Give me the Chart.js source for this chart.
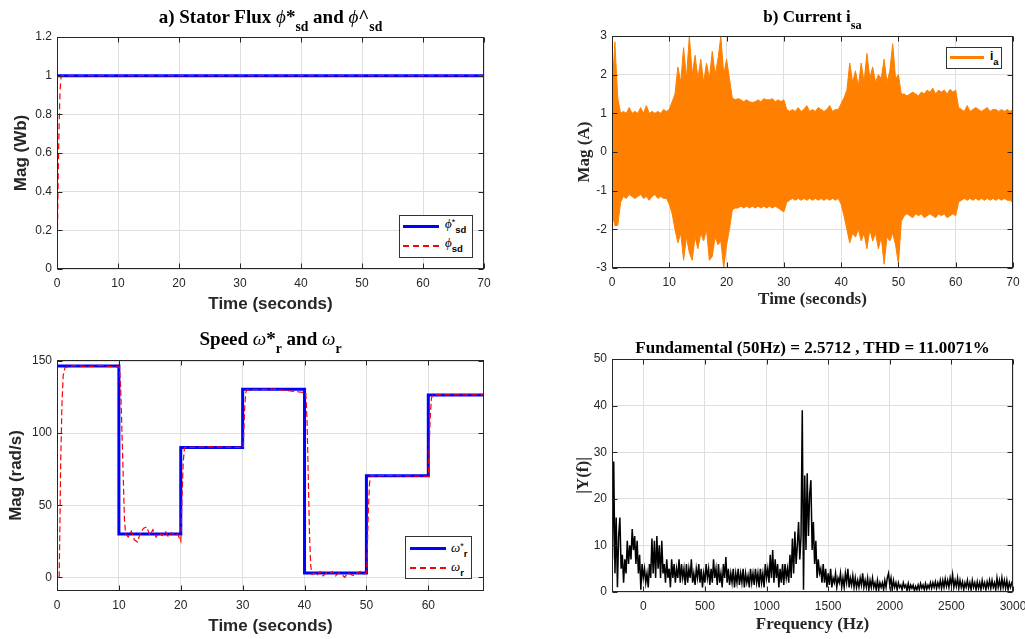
<!DOCTYPE html>
<html>
<head>
<meta charset="utf-8">
<script src="https://cdn.jsdelivr.net/npm/chart.js"></script>
<style>
body{margin:0;background:#fff;width:1025px;height:639px;overflow:hidden;position:relative}
canvas{position:absolute}
.t{position:absolute;font-family:'Liberation Serif','Times New Roman',serif;font-weight:bold;color:#000;line-height:1;white-space:nowrap;text-align:center}
.t sub{font-size:0.72em;vertical-align:-0.55em;line-height:0}
.t i,.lt i{font-weight:normal;font-style:italic}
.lg{position:absolute;background:#fff;border:1px solid #333;box-sizing:border-box}
.sw{position:absolute}
.dash{height:1.5px;background:repeating-linear-gradient(90deg,#ff0000 0 6px,transparent 6px 10px)}
.lt{position:absolute;white-space:nowrap;line-height:1;font-family:'Liberation Serif','Times New Roman',serif;font-size:13px;color:#000}
.lt sub{font-family:'Liberation Sans',Arial,sans-serif;font-weight:bold;font-size:9.5px;vertical-align:-0.5em;line-height:0}
.lt sup{font-family:'Liberation Sans',Arial,sans-serif;font-size:9px;vertical-align:0.35em;line-height:0}
</style>
</head>
<body>
<canvas id="cA" width="512" height="320" style="left:0;top:0"></canvas>
<canvas id="cB" width="513" height="320" style="left:512px;top:0"></canvas>
<canvas id="cC" width="512" height="319" style="left:0;top:320px"></canvas>
<canvas id="cD" width="513" height="319" style="left:512px;top:320px"></canvas>

<div class="t" style="left:57px;width:427px;top:7px;font-size:19px">a) Stator Flux <i>ϕ</i>*<sub>sd</sub> and <i>ϕ</i>^<sub>sd</sub></div>
<div class="t" style="left:612px;width:401px;top:7.5px;font-size:17px">b) Current i<sub>sa</sub></div>
<div class="t" style="left:57px;width:427px;top:329px;font-size:19px">Speed <i>ω</i>*<sub>r</sub> and <i>ω</i><sub>r</sub></div>
<div class="t" style="left:612px;width:401px;top:338.5px;font-size:17px">Fundamental (50Hz) = 2.5712 , THD = 11.0071%</div>

<div class="lg" style="left:399px;top:215px;width:74px;height:43px">
  <div class="sw" style="left:3px;top:9px;width:36px;height:3px;background:#0000ff"></div>
  <div class="lt" style="left:45px;top:1px"><i>ϕ</i><sup>*</sup><sub>sd</sub></div>
  <div class="sw dash" style="left:3px;top:29px;width:36px"></div>
  <div class="lt" style="left:45px;top:20px"><i>ϕ</i><sub>sd</sub></div>
</div>
<div class="lg" style="left:946px;top:47px;width:56px;height:22px">
  <div class="sw" style="left:3px;top:8px;width:34px;height:2.5px;background:#ff8000"></div>
  <div class="lt" style="left:43px;top:2px;font-family:'Liberation Sans',Arial,sans-serif;font-weight:bold;font-size:12px">i<sub>a</sub></div>
</div>
<div class="lg" style="left:405px;top:536px;width:67px;height:43px">
  <div class="sw" style="left:4px;top:10px;width:36px;height:3px;background:#0000ff"></div>
  <div class="lt" style="left:45px;top:4px"><i>ω</i><sup>*</sup><sub>r</sub></div>
  <div class="sw dash" style="left:4px;top:30px;width:36px"></div>
  <div class="lt" style="left:45px;top:23px"><i>ω</i><sub>r</sub></div>
</div>

<script>
// ---------------- DATA ----------------
// tick labels
const timeTicks70 = [0, 10, 20, 30, 40, 50, 60, 70];
const timeTicks69 = [0, 10, 20, 30, 40, 50, 60];
const fluxTicks = [0, 0.2, 0.4, 0.6, 0.8, 1, 1.2];
const curTicks = [-3, -2, -1, 0, 1, 2, 3];
const speedTicks = [0, 50, 100, 150];
const freqTicks = [0, 500, 1000, 1500, 2000, 2500, 3000];
const fftTicks = [0, 10, 20, 30, 40, 50];

// a) Stator flux
const fluxRefT = [0, 70];
const fluxRefV = [1, 1];
const fluxEstT = [0, 0.1, 0.2, 0.35, 0.5, 0.65, 0.8, 70];
const fluxEstV = [0.05, 0.25, 0.5, 0.75, 0.92, 0.99, 1, 1];

// b) Current i_sa envelope (every 0.5 s from 0 to 70 s)
const curStep = 0.5;
const curHi = [
  1.5, 2.85, 1.4, 1.0, 1.05, 1.0, 1.15, 1.0, 1.05, 1.0,
  1.15, 1.0, 1.2, 1.0, 1.05, 1.0, 1.05, 1.0, 1.1, 1.05,
  1.1, 1.3, 1.5, 2.2, 1.8, 2.7, 1.9, 3.0, 2.0, 2.5,
  1.9, 2.4, 1.8, 2.3, 1.9, 2.6, 2.0, 2.4, 3.0, 2.0,
  2.4, 1.9, 1.4, 1.35, 1.38, 1.35, 1.3, 1.35, 1.3, 1.28,
  1.3, 1.35, 1.3, 1.38, 1.35, 1.35, 1.38, 1.3, 1.35, 1.3,
  1.35, 1.1, 1.05, 1.1, 1.05, 1.15, 1.05, 1.1, 1.2, 1.05,
  1.1, 1.05, 1.15, 1.1, 1.05, 1.1, 1.2, 1.05, 1.1, 1.1,
  1.25, 1.4, 1.6, 2.3, 1.8, 2.1, 1.7, 2.3, 1.8, 2.55,
  1.9, 2.2, 1.8, 2.0, 1.9, 2.4, 1.8, 2.1, 2.8, 1.9,
  2.0, 1.5, 1.5, 1.45, 1.5, 1.55, 1.5, 1.45, 1.55, 1.5,
  1.6, 1.55, 1.65, 1.5, 1.6, 1.55, 1.6, 1.5, 1.62, 1.55,
  1.6, 1.15, 1.1, 1.05, 1.2, 1.05, 1.1, 1.15, 1.1, 1.05,
  1.1, 1.15, 1.05, 1.1, 1.1, 1.05, 1.1, 1.05, 1.1, 1.05,
  1.1
];
const curLo = [
  -1.6, -1.9, -1.9, -1.3, -1.15, -1.2, -1.1, -1.15, -1.2, -1.15,
  -1.1, -1.2, -1.15, -1.25, -1.15, -1.1, -1.2, -1.15, -1.2, -1.2,
  -1.35, -1.6, -2.0, -2.35, -2.1, -2.8, -2.2, -2.6, -2.8, -2.2,
  -2.5, -2.1, -2.3, -2.0, -2.8, -2.7, -2.2, -2.4, -2.3, -3.0,
  -2.4, -2.0, -1.5, -1.45, -1.45, -1.4, -1.45, -1.4, -1.45, -1.4,
  -1.45, -1.4, -1.45, -1.4, -1.45, -1.4, -1.45, -1.4, -1.45, -1.5,
  -1.55, -1.3, -1.25, -1.2, -1.25, -1.2, -1.25, -1.2, -1.25, -1.2,
  -1.25, -1.2, -1.25, -1.2, -1.25, -1.2, -1.25, -1.2, -1.25, -1.2,
  -1.35, -1.65, -2.0, -2.35, -2.1, -2.2, -2.0, -2.3, -2.1, -2.5,
  -2.0, -2.3, -2.1, -2.5, -2.2, -2.9, -2.2, -2.3, -2.1, -2.4,
  -2.9, -1.8, -1.65, -1.6, -1.65, -1.7, -1.6, -1.65, -1.6, -1.7,
  -1.65, -1.6, -1.65, -1.7, -1.6, -1.65, -1.6, -1.7, -1.65, -1.6,
  -1.65, -1.3, -1.25, -1.2, -1.25, -1.2, -1.25, -1.2, -1.25, -1.2,
  -1.25, -1.2, -1.25, -1.2, -1.25, -1.2, -1.25, -1.2, -1.25, -1.25,
  -1.3
];

// c) Speed
const speedRefT = [0, 10, 20, 30, 40, 50, 60, 69];
const speedRefV = [146.5, 30, 90, 130.5, 3, 70.5, 126.5, 126.5];
const speedEstT = [0.35, 0.45, 0.6, 0.8, 1.0, 1.3, 3, 5, 7, 9, 10.1,
  10.3, 10.5, 10.7, 10.9, 11.1, 11.5, 12, 12.5, 13, 13.5, 14, 14.5, 15, 15.5, 16, 16.5, 17, 17.5, 18, 18.5, 19, 19.5, 20,
  20.05, 20.2, 20.4, 20.6, 25, 30.1,
  30.3, 30.5, 30.7, 35, 40.2,
  40.4, 40.6, 40.8, 41.0, 41.2, 41.6, 42, 42.5, 43, 43.5, 44, 44.5, 45, 45.5, 46, 46.5, 47, 47.5, 48, 48.5, 49, 49.5, 50.0,
  50.1, 50.3, 50.5, 50.7, 55, 60.0,
  60.1, 60.3, 60.5, 60.7, 69];
const speedEstV = [0, 30, 80, 120, 140, 145.5, 147, 146, 147, 146, 146,
  130, 100, 70, 40, 30, 28, 32, 26, 24.5, 31, 34, 35, 29, 33, 28, 31, 29, 32, 28, 31, 29, 30, 25,
  30, 55, 80, 90, 90.5, 90,
  115, 128, 130, 130.5, 128,
  110, 70, 30, 8, 2, 3, 1, 4, 1, 3, 2, 4, 1, 3, 2, 0, 3, 2, 1, 3, 4, 2, 3,
  10, 45, 65, 70.5, 70.5, 70,
  85, 110, 124, 126.5, 126.5];

// d) FFT magnitude, 10 Hz steps starting at -250 Hz
const fftStart = -250, fftStep = 10;
const fftMag = [
  7, 28, 4, 16, 1, 12, 16, 5, 8, 2, 7, 4, 11, 6, 10, 7, 13.5, 9, 12, 6,
  11, 4, 8, 0.5, 6, 3, 5, 2, 4, 1, 6, 3, 11.5, 4, 11, 3, 12, 5, 10, 3,
  11, 4, 6, 2, 7, 3, 5, 1, 7, 3, 6, 2, 5, 3, 7, 2, 6, 3, 5, 1.5,
  6, 2, 5, 3, 7, 2, 4, 1.5, 5, 3, 6, 2, 5, 1, 4, 2, 6, 3, 5, 1.5,
  5, 2, 7, 3, 5, 1.5, 6, 2, 4, 1, 6, 3, 7.5, 2, 5, 1.5, 4, 2, 5, 1,
  4, 2, 5, 1.5, 4, 2, 5, 1, 4, 2, 3.5, 1, 5, 2, 4, 1.5, 5, 2, 4, 1,
  5, 2, 4, 1, 6, 3, 5, 2, 8, 3, 9, 2, 7, 3, 6, 1, 5, 2, 6, 1.5,
  6, 3, 5, 2, 8, 3, 11.5, 4, 13, 6, 10, 15, 7, 12, 39, 0.5, 25, 9, 25.5, 12,
  21, 24, 9, 15, 6, 11, 3, 7, 4, 5, 2, 6, 2, 5, 1, 4, 1.5, 5, 1, 3,
  2, 4, 1, 3, 2, 4, 1, 3, 1, 4, 2, 5, 1, 3, 1.5, 3.5, 1, 3, 1, 2.5,
  1, 3, 1.5, 4, 1, 2.5, 1, 3, 0.5, 2.5, 1, 3, 1, 2, 0.5, 2.5, 0.5, 2, 1, 2,
  0.5, 2.5, 1, 3, 4, 1.5, 3, 0.5, 2.5, 1, 2, 0.5, 2, 1, 1.5, 0.5, 2, 1, 1.5, 0.3,
  1.8, 0.5, 1.5, 0.8, 1.5, 0.3, 1.2, 0.5, 1.5, 0.5, 1.8, 0.8, 1.5, 0.5, 1.8, 0.6, 1.5, 0.8, 2, 0.8,
  2, 1, 2.2, 0.8, 2, 1, 2.5, 0.8, 2.5, 1, 2.8, 1.2, 2.5, 1, 3, 1.5, 3.7, 1, 2.5, 1.2,
  3, 0.8, 2.5, 1, 2.2, 0.5, 2, 1, 2.5, 0.8, 2, 0.5, 2.5, 1, 2, 0.5, 2.2, 0.8, 2, 0.5,
  2.5, 1, 2, 0.5, 2.2, 1, 2.5, 0.8, 2.5, 1, 2, 0.5, 3, 1, 2.5, 0.8, 3, 1, 2.5, 0.8,
  2.5, 0.5, 2, 1, 2, 1.5
];

// ---------------- HELPERS ----------------
Chart.defaults.font.family = "'Liberation Sans', Arial, Helvetica, sans-serif";
Chart.defaults.font.size = 12;
Chart.defaults.color = '#262626';

const sansBold = {family: "'Liberation Sans', Arial, sans-serif", size: 17, weight: 'bold', lineHeight: 1.2};
const serifBold = {family: "'Liberation Serif', 'Times New Roman', serif", size: 17, weight: 'bold', lineHeight: 1.2};

function xyPairs(xs, ys) { return xs.map((x, i) => ({x: x, y: ys[i]})); }

function mkScale(o) {
  return {
    type: 'linear', min: o.min, max: o.max,
    afterBuildTicks: (s) => { s.ticks = o.ticks.map(v => ({value: v})); },
    ticks: {padding: o.labelPad, color: '#262626',
      font: {size: 12}, autoSkip: false, maxRotation: 0,
      callback: v => String(+(+v).toFixed(2))},
    grid: {color: '#dfdfdf', lineWidth: 1, drawTicks: false},
    border: {display: false},
    title: {display: true, text: o.title, color: '#262626', font: o.font,
      padding: o.horizontal ? {top: 0, bottom: o.titlePad} : {top: o.titlePad, bottom: 0}},
    afterFit: (s) => {
      if (o.horizontal) { s.height = o.size; s.paddingLeft = 0; s.paddingRight = 0; }
      else { s.width = o.size; s.paddingTop = 0; s.paddingBottom = 0; }
    }
  };
}

const boxPlugin = {
  id: 'mbox',
  afterDatasetsDraw(chart) {
    const {ctx, chartArea: a} = chart;
    const x = chart.scales.x, y = chart.scales.y;
    ctx.save();
    ctx.strokeStyle = '#262626';
    ctx.lineWidth = 1;
    const L = Math.round(a.left) + 0.5, R = Math.round(a.right) - 0.5;
    const T = Math.round(a.top) + 0.5, B = Math.round(a.bottom) - 0.5;
    ctx.strokeRect(L, T, R - L, B - T);
    const len = 5;
    ctx.beginPath();
    x.ticks.forEach(t => {
      const px = Math.round(x.getPixelForValue(t.value)) + 0.5;
      ctx.moveTo(px, B); ctx.lineTo(px, B - len);
      ctx.moveTo(px, T); ctx.lineTo(px, T + len);
    });
    y.ticks.forEach(t => {
      const py = Math.round(y.getPixelForValue(t.value)) + 0.5;
      ctx.moveTo(L, py); ctx.lineTo(L + len, py);
      ctx.moveTo(R, py); ctx.lineTo(R - len, py);
    });
    ctx.stroke();
    ctx.restore();
  }
};

function opts(pad, xs, ys) {
  return {
    responsive: false, animation: false, devicePixelRatio: 1, events: [],
    layout: {padding: pad},
    plugins: {legend: {display: false}, tooltip: {enabled: false}},
    elements: {point: {radius: 0}, line: {tension: 0}},
    scales: {x: xs, y: ys}
  };
}

// ---------------- a) ----------------
new Chart(document.getElementById('cA'), {
  type: 'line',
  data: {datasets: [
    {data: xyPairs(fluxEstT, fluxEstV), borderColor: '#ff0000', borderWidth: 1.2, borderDash: [6, 4], order: 0},
    {data: xyPairs(fluxRefT, fluxRefV), borderColor: '#0000ff', borderWidth: 3, order: 1}
  ]},
  options: opts({left: 0, top: 37, right: 28, bottom: 0},
    mkScale({min: 0, max: 70, ticks: timeTicks70, title: 'Time (seconds)', font: sansBold, titlePad: 5, size: 51, horizontal: true, labelPad: 7}),
    mkScale({min: 0, max: 1.2, ticks: fluxTicks, title: 'Mag (Wb)', font: sansBold, titlePad: 11, size: 57, horizontal: false, labelPad: 5})),
  plugins: [boxPlugin]
});

// ---------------- b) ----------------
const curT = curHi.map((_, i) => i * curStep);
new Chart(document.getElementById('cB'), {
  type: 'line',
  data: {datasets: [
    {data: xyPairs(curT, curHi), borderColor: '#ff8000', backgroundColor: '#ff8000', borderWidth: 1, fill: '+1'},
    {data: xyPairs(curT, curLo), borderColor: '#ff8000', borderWidth: 1, fill: false}
  ]},
  options: opts({left: 0, top: 36, right: 12, bottom: 0},
    mkScale({min: 0, max: 70, ticks: timeTicks70, title: 'Time (seconds)', font: serifBold, titlePad: 10, size: 52, horizontal: true, labelPad: 7}),
    mkScale({min: -3, max: 3, ticks: curTicks, title: 'Mag (A)', font: serifBold, titlePad: 62, size: 100, horizontal: false, labelPad: 5})),
  plugins: [boxPlugin]
});

// ---------------- c) ----------------
new Chart(document.getElementById('cC'), {
  type: 'line',
  data: {datasets: [
    {data: xyPairs(speedEstT, speedEstV), borderColor: '#ff0000', borderWidth: 1.2, borderDash: [6, 3], order: 0},
    {data: xyPairs(speedRefT, speedRefV), borderColor: '#0000ff', borderWidth: 3, stepped: true, order: 1}
  ]},
  options: opts({left: 0, top: 40, right: 28, bottom: 0},
    mkScale({min: 0, max: 69, ticks: timeTicks69, title: 'Time (seconds)', font: sansBold, titlePad: 2, size: 48, horizontal: true, labelPad: 7}),
    mkScale({min: -9.5, max: 150.7, ticks: speedTicks, title: 'Mag (rad/s)', font: sansBold, titlePad: 6.5, size: 57, horizontal: false, labelPad: 5})),
  plugins: [boxPlugin]
});

// ---------------- d) ----------------
const fftFreq = fftMag.map((_, i) => fftStart + i * fftStep);
new Chart(document.getElementById('cD'), {
  type: 'line',
  data: {datasets: [
    {data: xyPairs(fftFreq, fftMag), borderColor: '#000000', borderWidth: 1.5}
  ]},
  options: opts({left: 0, top: 39, right: 12, bottom: 0},
    mkScale({min: -254, max: 3000, ticks: freqTicks, title: 'Frequency (Hz)', font: serifBold, titlePad: 4, size: 47, horizontal: true, labelPad: 7}),
    mkScale({min: 0, max: 50, ticks: fftTicks, title: '|Y(f)|', font: serifBold, titlePad: 61, size: 100, horizontal: false, labelPad: 5})),
  plugins: [boxPlugin]
});
</script>
</body>
</html>
